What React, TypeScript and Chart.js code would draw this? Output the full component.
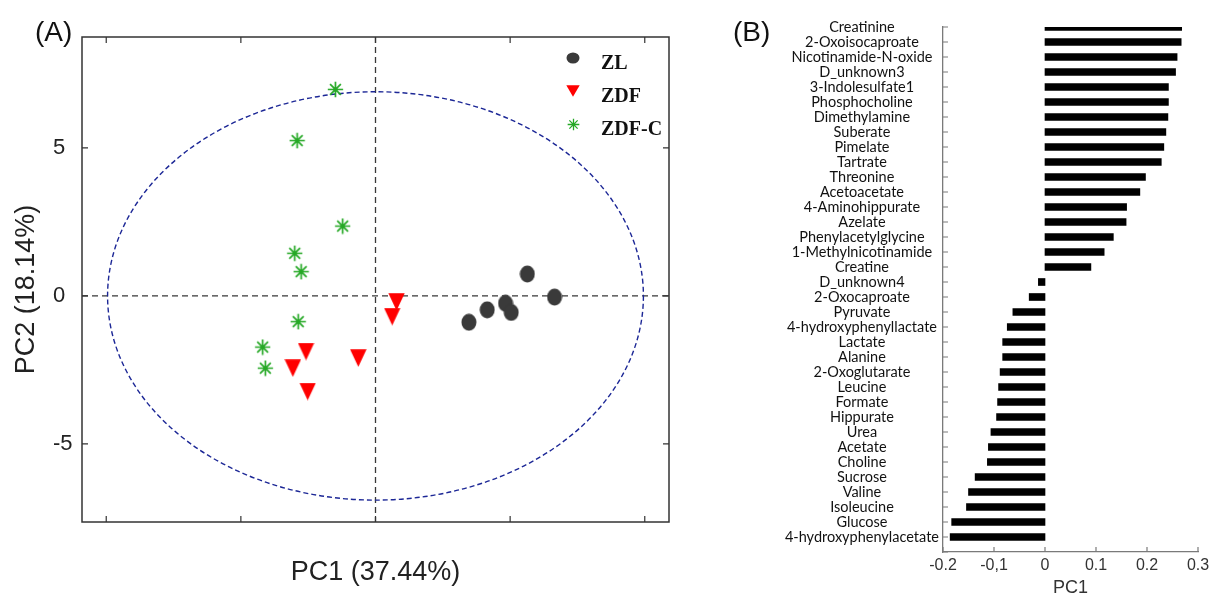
import React, { useEffect, useRef } from 'react';
import { Chart, registerables } from 'chart.js';

Chart.register(...registerables);

// ---------- Panel A: PCA scores ----------
const groupNames = ['ZL', 'ZDF', 'ZDF-C'];
const zlX = [3.47, 4.15, 4.83, 5.04, 5.64, 6.65];
const zlY = [-0.89, -0.47, -0.25, -0.56, 0.74, -0.04];
const zdfX = [0.78, 0.62, -2.58, -3.07, -2.52, -0.64];
const zdfY = [-0.2, -0.7, -1.88, -2.44, -3.23, -2.1];
const zdfcX = [-1.49, -2.91, -1.22, -3.0, -2.76, -2.87, -4.19, -4.09];
const zdfcY = [6.98, 5.25, 2.36, 1.44, 0.82, -0.87, -1.73, -2.44];
const ellipseCenter = [0, 0];
const ellipseRadii = [9.95, 6.9];
const pcaXRange = [-10.9, 10.9];
const pcaYRange = [-7.64, 8.75];
const pcaTickStep = 5;
const pc1Title = 'PC1 (37.44%)';
const pc2Title = 'PC2 (18.14%)';

// ---------- Panel B: PC1 loadings ----------
const metabolites = [
  'Creatinine', '2-Oxoisocaproate', 'Nicotinamide-N-oxide', 'D_unknown3', '3-Indolesulfate1',
  'Phosphocholine', 'Dimethylamine', 'Suberate', 'Pimelate', 'Tartrate', 'Threonine',
  'Acetoacetate', '4-Aminohippurate', 'Azelate', 'Phenylacetylglycine', '1-Methylnicotinamide',
  'Creatine', 'D_unknown4', '2-Oxocaproate', 'Pyruvate', '4-hydroxyphenyllactate', 'Lactate',
  'Alanine', '2-Oxoglutarate', 'Leucine', 'Formate', 'Hippurate', 'Urea', 'Acetate', 'Choline',
  'Sucrose', 'Valine', 'Isoleucine', 'Glucose', '4-hydroxyphenylacetate',
];
const loadings = [
  0.268, 0.267, 0.259, 0.256, 0.242, 0.242, 0.241, 0.237, 0.233, 0.228, 0.197,
  0.186, 0.160, 0.159, 0.134, 0.116, 0.090, -0.013, -0.031, -0.063, -0.074, -0.083,
  -0.083, -0.088, -0.091, -0.093, -0.095, -0.106, -0.111, -0.113, -0.137, -0.150,
  -0.154, -0.183, -0.186,
];
const loadingRange = [-0.2, 0.3];
const loadingStep = 0.1;
const loadingTickLabels = ['-0.2', '-0,1', '0', '0.1', '0.2', '0.3'];
const loadingTitle = 'PC1';

const SANS = "'Liberation Sans', Arial, sans-serif";

function makeEllipse(w: number, h: number, color: string) {
  const c = document.createElement('canvas');
  c.width = w; c.height = h;
  const g = c.getContext('2d')!;
  g.fillStyle = color;
  g.beginPath();
  g.ellipse(w / 2, h / 2, w / 2 - 0.5, h / 2 - 0.5, 0, 0, Math.PI * 2);
  g.fill();
  return c;
}
function makeTriangleDown(w: number, h: number, color: string) {
  const c = document.createElement('canvas');
  c.width = w; c.height = h;
  const g = c.getContext('2d')!;
  g.fillStyle = color;
  g.beginPath();
  g.moveTo(0.3, 0.3);
  g.lineTo(w - 0.3, 0.3);
  g.lineTo(w / 2, h - 0.3);
  g.closePath();
  g.fill();
  return c;
}
function makeStar(size: number, color: string, lw: number) {
  const c = document.createElement('canvas');
  c.width = size; c.height = size;
  const g = c.getContext('2d')!;
  g.strokeStyle = color;
  g.lineWidth = lw;
  const m = size / 2;
  const r = size / 2 - lw / 2;
  g.beginPath();
  for (const a of [0, 45, 90, 135]) {
    const t = (a * Math.PI) / 180;
    g.moveTo(m - r * Math.cos(t), m - r * Math.sin(t));
    g.lineTo(m + r * Math.cos(t), m + r * Math.sin(t));
  }
  g.stroke();
  return c;
}

export default function App() {
  const aRef = useRef<HTMLCanvasElement>(null);
  const bRef = useRef<HTMLCanvasElement>(null);

  useEffect(() => {
    const gray = '#3a3a3a';
    const red = '#ff0000';
    const green = '#25a825';
    const zlImg = makeEllipse(16, 18, gray);
    const zdfImg = makeTriangleDown(17, 18, red);
    const starImg = makeStar(17, green, 1.7);
    const legendImgs = [makeEllipse(14, 12, gray), makeTriangleDown(14, 12, red), makeStar(13, green, 1.3)];
    const titleShift = 10;

    const pcaDecor = {
      id: 'pcaDecor',
      beforeDraw(chart: any) {
        // nudge only the PC2 title box downward (pixel mapping is already configured)
        const y = chart.scales.y;
        y.top += titleShift; y.bottom += titleShift;
      },
      beforeDatasetsDraw(chart: any) {
        const { ctx, chartArea: ca, scales } = chart;
        const x = scales.x, y = scales.y;
        y.top -= titleShift; y.bottom -= titleShift;
        ctx.save();
        ctx.strokeStyle = '#383838';
        ctx.lineWidth = 1.3;
        ctx.setLineDash([6, 4]);
        const x0 = x.getPixelForValue(0), y0 = y.getPixelForValue(0);
        ctx.beginPath();
        ctx.moveTo(x0, ca.top); ctx.lineTo(x0, ca.bottom);
        ctx.moveTo(ca.left, y0); ctx.lineTo(ca.right, y0);
        ctx.stroke();
        const cx = x.getPixelForValue(ellipseCenter[0]);
        const cy = y.getPixelForValue(ellipseCenter[1]);
        const rx = Math.abs(x.getPixelForValue(ellipseCenter[0] + ellipseRadii[0]) - cx);
        const ry = Math.abs(y.getPixelForValue(ellipseCenter[1] + ellipseRadii[1]) - cy);
        ctx.strokeStyle = '#1c2796';
        ctx.lineWidth = 1.4;
        ctx.setLineDash([5, 3]);
        ctx.beginPath();
        ctx.ellipse(cx, cy, rx, ry, 0, 0, Math.PI * 2);
        ctx.stroke();
        ctx.restore();
      },
      afterDraw(chart: any) {
        const { ctx, chartArea: ca, scales } = chart;
        const x = scales.x, y = scales.y;
        ctx.save();
        ctx.strokeStyle = '#333';
        ctx.lineWidth = 1.5;
        ctx.strokeRect(ca.left, ca.top, ca.right - ca.left, ca.bottom - ca.top);
        ctx.lineWidth = 1.2;
        ctx.beginPath();
        for (const t of x.ticks) {
          const p = x.getPixelForValue(t.value);
          ctx.moveTo(p, ca.bottom); ctx.lineTo(p, ca.bottom - 6);
          ctx.moveTo(p, ca.top); ctx.lineTo(p, ca.top + 6);
        }
        for (const t of y.ticks) {
          const p = y.getPixelForValue(t.value);
          ctx.moveTo(ca.left, p); ctx.lineTo(ca.left + 6, p);
          ctx.moveTo(ca.right, p); ctx.lineTo(ca.right - 6, p);
        }
        ctx.stroke();
        // legend
        ctx.font = "bold 20px 'Liberation Serif', 'Times New Roman', serif";
        ctx.fillStyle = '#111';
        ctx.textBaseline = 'alphabetic';
        ctx.textAlign = 'left';
        groupNames.forEach((name, i) => {
          const my = ca.top + 21 + i * 33;
          const mx = ca.right - 96;
          const img = legendImgs[i];
          ctx.drawImage(img, Math.round(mx - img.width / 2), Math.round(my - img.height / 2));
          ctx.fillText(name, ca.right - 68, my + 11);
        });
        ctx.restore();
      },
    };

    const toPts = (xs: number[], ys: number[]) => xs.map((v, i) => ({ x: v, y: ys[i] }));

    const chartA = new Chart(aRef.current!, {
      type: 'scatter',
      data: {
        datasets: [
          { label: groupNames[0], data: toPts(zlX, zlY), pointStyle: zlImg as any, pointRadius: 8, backgroundColor: gray, borderColor: gray },
          { label: groupNames[1], data: toPts(zdfX, zdfY), pointStyle: zdfImg as any, pointRadius: 8, backgroundColor: red, borderColor: red },
          { label: groupNames[2], data: toPts(zdfcX, zdfcY), pointStyle: starImg as any, pointRadius: 8, backgroundColor: green, borderColor: green },
        ],
      },
      options: {
        animation: false,
        responsive: false,
        layout: { padding: { left: 53, top: 37, right: 31, bottom: 0 } },
        plugins: { legend: { display: false }, tooltip: { enabled: false } },
        scales: {
          x: {
            type: 'linear',
            min: pcaXRange[0],
            max: pcaXRange[1],
            ticks: { stepSize: pcaTickStep, display: false, includeBounds: false },
            grid: { display: false, drawTicks: false },
            border: { display: false },
            title: { display: true, text: pc1Title, color: '#222', font: { family: SANS, size: 27 }, padding: { top: 0, bottom: 17 } },
            afterFit: (s: any) => { s.height = 84; },
          },
          y: {
            type: 'linear',
            min: pcaYRange[0],
            max: pcaYRange[1],
            ticks: { stepSize: pcaTickStep, includeBounds: false, crossAlign: 'far', color: '#222', font: { family: SANS, size: 22 } },
            grid: { display: false, drawTicks: false },
            border: { display: false },
            title: { display: true, text: pc2Title, color: '#222', font: { family: SANS, size: 27 }, padding: { top: -43, bottom: 0 } },
            afterFit: (s: any) => { s.width = 29; },
          },
        },
      } as any,
      plugins: [pcaDecor],
    });

    const loadDecor = {
      id: 'loadDecor',
      afterDraw(chart: any) {
        const { ctx, chartArea: ca, scales } = chart;
        const x = scales.x, y = scales.y;
        ctx.save();
        ctx.strokeStyle = '#7a7a7a';
        ctx.lineWidth = 1.2;
        ctx.beginPath();
        for (const t of y.ticks) {
          const p = y.getPixelForValue(t.value);
          ctx.moveTo(ca.left, p); ctx.lineTo(ca.left + 5, p);
        }
        for (const t of x.ticks) {
          const p = x.getPixelForValue(t.value);
          ctx.moveTo(p, ca.bottom); ctx.lineTo(p, ca.bottom - 5);
        }
        ctx.stroke();
        ctx.restore();
      },
    };

    const chartB = new Chart(bRef.current!, {
      type: 'bar',
      data: {
        labels: metabolites,
        datasets: [{ label: loadingTitle, data: loadings, backgroundColor: '#000', barThickness: 7, clip: 0 } as any],
      },
      options: {
        indexAxis: 'y',
        animation: false,
        responsive: false,
        layout: { padding: { left: 0, top: 27, right: 19, bottom: 0 } },
        plugins: { legend: { display: false }, tooltip: { enabled: false } },
        scales: {
          x: {
            type: 'linear',
            min: loadingRange[0],
            max: loadingRange[1],
            ticks: {
              stepSize: loadingStep,
              color: '#333',
              font: { family: SANS, size: 16 },
              padding: 4,
              callback: (v: any) => loadingTickLabels[Math.round((Number(v) - loadingRange[0]) / loadingStep)] ?? '',
            },
            grid: { display: false, drawTicks: false },
            border: { display: true, color: '#7a7a7a', width: 1.3 },
            title: { display: true, text: loadingTitle, color: '#333', font: { family: SANS, size: 18 }, padding: { top: 0, bottom: 7 } },
            afterFit: (s: any) => { s.height = 54; },
          },
          y: {
            type: 'category',
            labels: [...metabolites, ''],
            offset: false,
            ticks: {
              autoSkip: false,
              crossAlign: 'center',
              padding: 4,
              color: '#111',
              font: { family: "Lato, 'Open Sans', sans-serif", size: 14.5 },
            },
            grid: { display: false, drawTicks: false },
            border: { display: true, color: '#7a7a7a', width: 1.3 },
            afterFit: (s: any) => { s.width = 223; },
          },
        },
      } as any,
      plugins: [loadDecor],
    });

    return () => {
      chartA.destroy();
      chartB.destroy();
    };
  }, []);

  const letter: React.CSSProperties = {
    position: 'absolute',
    top: 18,
    fontFamily: SANS,
    fontSize: 28,
    lineHeight: '28px',
    color: '#111',
  };

  return (
    <div style={{ position: 'absolute', left: 0, top: 0, width: 1217, height: 606, background: '#fff', overflow: 'hidden' }}>
      <canvas ref={aRef} width={700} height={606} style={{ position: 'absolute', left: 0, top: 0, width: 700, height: 606 }} />
      <canvas ref={bRef} width={497} height={606} style={{ position: 'absolute', left: 720, top: 0, width: 497, height: 606 }} />
      <div style={{ ...letter, left: 35 }}>(A)</div>
      <div style={{ ...letter, left: 733 }}>(B)</div>
    </div>
  );
}
